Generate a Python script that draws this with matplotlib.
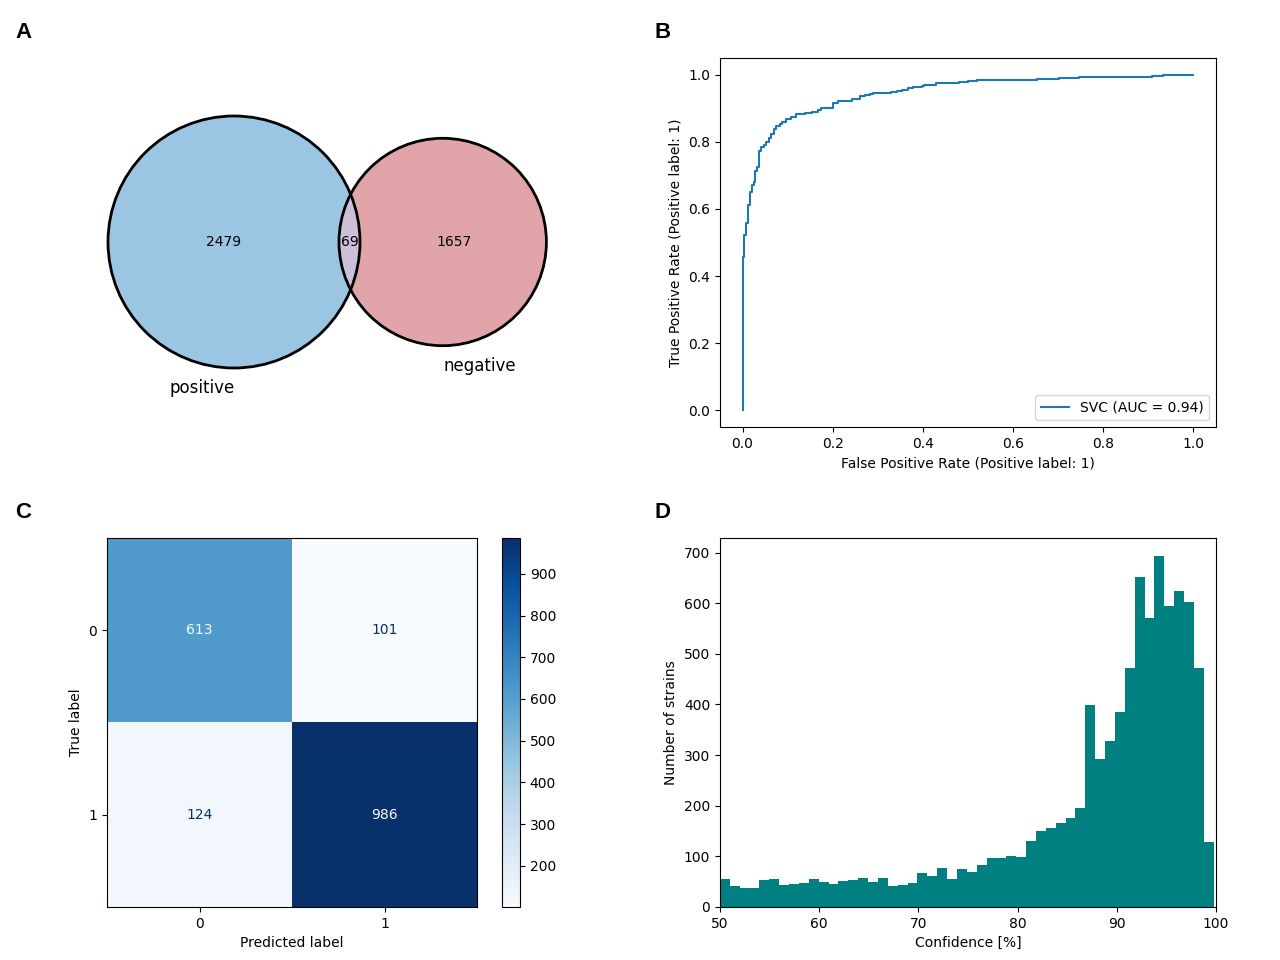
import numpy as np
import matplotlib
matplotlib.use("Agg")
import matplotlib.pyplot as plt
from matplotlib.patches import Circle

# ---------------- data ----------------
venn_labels = ["positive", "negative"]
venn_only_pos = 2479
venn_only_neg = 1657
venn_both = 69

roc_fpr = [0.0, 0.0, 0.002, 0.004, 0.0074, 0.012, 0.017, 0.0215, 0.025, 0.028, 0.0326,
           0.036, 0.0415, 0.047, 0.0526, 0.058, 0.064, 0.07, 0.075, 0.082, 0.088, 0.097,
           0.108, 0.119, 0.138, 0.153, 0.167, 0.175, 0.2, 0.212, 0.242, 0.26, 0.271,
           0.282, 0.29, 0.3, 0.33, 0.343, 0.353, 0.367, 0.377, 0.397, 0.403, 0.429,
           0.481, 0.501, 0.519, 0.653, 0.702, 0.747, 0.908, 0.933, 0.96, 1.0]
roc_tpr = [0.0, 0.357, 0.458, 0.523, 0.558, 0.612, 0.652, 0.67, 0.68, 0.714, 0.726,
           0.774, 0.786, 0.792, 0.80, 0.812, 0.823, 0.838, 0.847, 0.853, 0.859, 0.868,
           0.875, 0.883, 0.886, 0.89, 0.895, 0.902, 0.916, 0.921, 0.929, 0.936, 0.94,
           0.943, 0.946, 0.947, 0.95, 0.953, 0.956, 0.96, 0.963, 0.966, 0.971, 0.974,
           0.977, 0.98, 0.983, 0.986, 0.989, 0.992, 0.995, 0.998, 1.0, 1.0]
roc_label = "SVC (AUC = 0.94)"

cm_values = np.array([[613, 101],
                      [124, 986]])
cm_classes = ["0", "1"]

hist_counts = [55, 41, 37, 37, 53, 55, 43, 45, 47, 55, 49, 45, 51, 53, 57, 49, 57, 41,
               43, 47, 67, 61, 77, 55, 75, 69, 83, 97, 97, 101, 99, 130, 150, 156, 166,
               176, 195, 398, 292, 327, 385, 471, 651, 570, 694, 594, 625, 603, 471, 128]
hist_lo, hist_hi = 50.0, 99.77

# ---------------- figure ----------------
fig = plt.figure(figsize=(12.8, 9.6), dpi=100)
W, H = 1280, 960


def fbox(l, t, r, b):
    return [l / W, 1 - b / H, (r - l) / W, (b - t) / H]


# panel letters
for letter, (px, py) in zip("ABCD", [(15, 38), (655, 38), (15, 518), (655, 518)]):
    fig.text(px / W, 1 - py / H, letter, fontsize=16, fontweight="bold",
             family=["Liberation Sans", "DejaVu Sans"], ha="left", va="baseline")

# ---------------- A: Venn ----------------
size_pos = venn_only_pos + venn_both
size_neg = venn_only_neg + venn_both
r1 = np.sqrt(size_pos / np.pi)
r2 = np.sqrt(size_neg / np.pi)


def lens_area(d):
    a1 = np.arccos((d * d + r1 * r1 - r2 * r2) / (2 * d * r1))
    a2 = np.arccos((d * d + r2 * r2 - r1 * r1) / (2 * d * r2))
    k = np.sqrt((-d + r1 + r2) * (d + r1 - r2) * (d - r1 + r2) * (d + r1 + r2))
    return r1 * r1 * a1 + r2 * r2 * a2 - 0.5 * k


lo, hi = abs(r1 - r2) + 1e-6, r1 + r2 - 1e-6
for _ in range(100):
    mid = 0.5 * (lo + hi)
    if lens_area(mid) > venn_both:
        lo = mid
    else:
        hi = mid
d = 0.5 * (lo + hi)

s = 126.0 / r1  # px per unit
cx_px, cy_px = 234, 242
axA = fig.add_axes([0, 0.5, 0.5, 0.5])
axA.set_xlim(-cx_px / s, (640 - cx_px) / s)
axA.set_ylim(-(480 - cy_px) / s, cy_px / s)
axA.axis("off")

c1 = Circle((0, 0), r1, facecolor="#9ac5e3", edgecolor="none")
c2 = Circle((d, 0), r2, facecolor="#e1a4a8", edgecolor="none")
axA.add_patch(c1)
axA.add_patch(c2)
clip = Circle((0, 0), r1, transform=axA.transData)
lens = Circle((d, 0), r2, facecolor="#cbbfd9", edgecolor="none")
axA.add_patch(lens)
lens.set_clip_path(clip)
axA.add_patch(Circle((0, 0), r1, fill=False, edgecolor="black", lw=2))
axA.add_patch(Circle((d, 0), r2, fill=False, edgecolor="black", lw=2))

axA.text(-0.08 * r1, 0, str(venn_only_pos), ha="center", va="center", fontsize=10)
axA.text(d + 0.107 * r2, 0, str(venn_only_neg), ha="center", va="center", fontsize=10)
axA.text(((d - r2) + r1) / 2, 0, str(venn_both), ha="center", va="center", fontsize=10)
axA.text(-0.254 * r1, -r1 - 4.5, venn_labels[0], ha="center", va="center", fontsize=12)
axA.text(d + 0.36 * r2, -r2 - 4.6, venn_labels[1], ha="center", va="center", fontsize=12)

# ---------------- B: ROC ----------------
axB = fig.add_axes(fbox(720, 58, 1216, 427))
axB.step(roc_fpr, roc_tpr, where="post", color="#1f77b4", lw=1.5, label=roc_label)
axB.set_xlim(-0.05, 1.05)
axB.set_ylim(-0.05, 1.05)
axB.set_xlabel("False Positive Rate (Positive label: 1)")
axB.set_ylabel("True Positive Rate (Positive label: 1)")
axB.legend(loc="lower right")

# ---------------- C: confusion matrix ----------------
axC = fig.add_axes(fbox(107, 538, 477, 907))
cmap = plt.get_cmap("Blues")
im = axC.imshow(cm_values, cmap=cmap, aspect="auto", interpolation="nearest")
thresh = (cm_values.max() + cm_values.min()) / 2.0
for i in range(cm_values.shape[0]):
    for j in range(cm_values.shape[1]):
        col = cmap(0.0) if cm_values[i, j] > thresh else cmap(1.0)
        axC.text(j, i, str(cm_values[i, j]), ha="center", va="center", color=col, fontsize=10)
axC.set_xticks(range(len(cm_classes)))
axC.set_xticklabels(cm_classes)
axC.set_yticks(range(len(cm_classes)))
axC.set_yticklabels(cm_classes)
axC.set_xlabel("Predicted label")
axC.set_ylabel("True label")
cax = fig.add_axes(fbox(502, 538, 520, 907))
fig.colorbar(im, cax=cax)

# ---------------- D: histogram ----------------
axD = fig.add_axes(fbox(720, 538, 1216, 907))
edges = np.linspace(hist_lo, hist_hi, len(hist_counts) + 1)
centers = 0.5 * (edges[:-1] + edges[1:])
axD.hist(centers, bins=edges, weights=hist_counts, color="teal")
axD.set_xlim(50, 100)
axD.set_xlabel("Confidence [%]")
axD.set_ylabel("Number of strains")

fig.savefig("out.png", dpi=100)
